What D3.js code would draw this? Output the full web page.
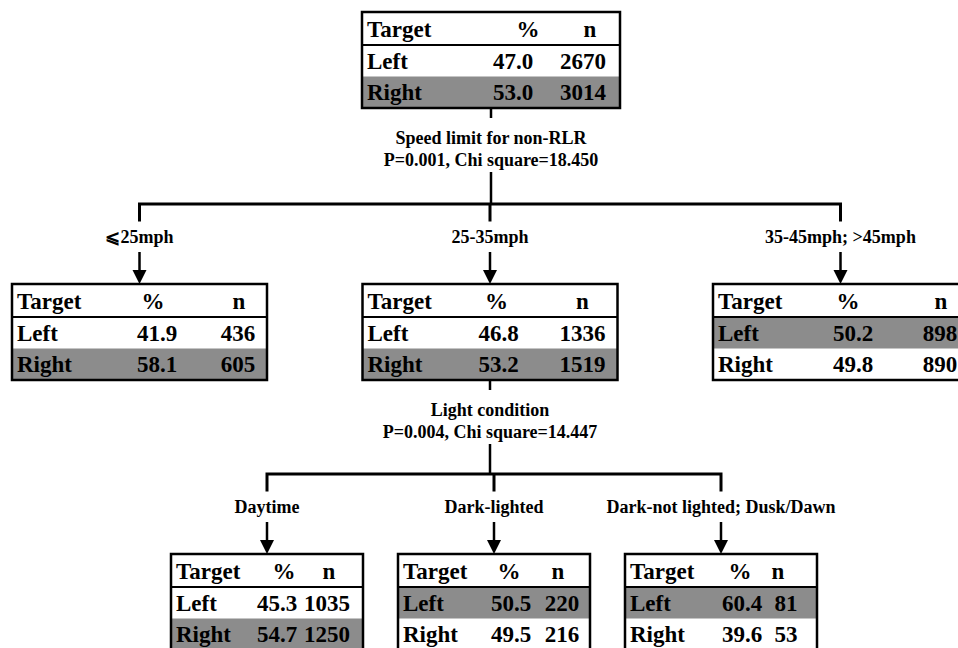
<!DOCTYPE html>
<html>
<head>
<meta charset="utf-8">
<script src="https://cdn.jsdelivr.net/npm/d3@7/dist/d3.min.js"></script>
<style>
  html, body { margin: 0; padding: 0; background: #fff; }
  svg { display: block; }
  text { font-family: "Liberation Serif", "Times New Roman", serif; font-weight: bold; fill: #000; }
</style>
</head>
<body>
<svg id="chart" width="958" height="648"></svg>
<script>
// Decision tree: node ids, parents and the branch condition leading to each node
const nodeIds     = ["root", "le25", "s25_35", "s35up", "day", "darkLit", "darkNot"];
const nodeParents = [null, "root", "root", "root", "s25_35", "s25_35", "s25_35"];
const branchLabels = [null, "⩽25mph", "25-35mph", "35-45mph; >45mph",
                      "Daytime", "Dark-lighted", "Dark-not lighted; Dusk/Dawn"];

// Table contents
const tableHeader = ["Target", "%", "n"];
const classNames  = ["Left", "Right"];
const nodePct = [[47.0, 53.0], [41.9, 58.1], [46.8, 53.2], [50.2, 49.8],
                 [45.3, 54.7], [50.5, 49.5], [60.4, 39.6]];
const nodeN   = [[2670, 3014], [436, 605], [1336, 1519], [898, 890],
                 [1035, 1250], [220, 216], [81, 53]];

// Split statistics for the internal nodes
const splitNodes = ["root", "s25_35"];
const splitVars  = ["Speed limit for non-RLR", "Light condition"];
const splitStats = ["P=0.001, Chi square=18.450", "P=0.004, Chi square=14.447"];

// ---- layout ----
const boxW    = [258, 255, 192];     // box width per depth
const headH = 33, rowH = 31.5;
const boxH = headH + 2 * rowH;
// column positions inside each table (header %, value %, header n, value n)
const colLayout = [
  [166, 151, 228, 221],
  [141, 145, 227, 226],
  [134, 136, 220, 220],
  [135, 140, 228, 227],
  [113, 106, 158, 156],
  [111, 113, 160, 164],
  [115, 117, 153, 161]
];
const grey = "#8c8c8c";

const svg = d3.select("#chart");

const table = nodeIds.map((id, i) => ({
  id, parent: nodeParents[i], label: branchLabels[i],
  pct: nodePct[i], n: nodeN[i], cols: colLayout[i]
}));
const root = d3.stratify().id(d => d.id).parentId(d => d.parent)(table);
const nodes = root.descendants();

// y: top edge of each depth's boxes
const yTop = d3.scaleOrdinal().domain([0, 1, 2]).range([12, 284, 554]);
// x: box centres, one point scale per depth
const xByDepth = {};
d3.group(nodes, d => d.depth).forEach((arr, depth) => {
  const ids = arr.map(d => d.id);
  const range = depth === 0 ? [491, 491] : depth === 1 ? [139.5, 840.5] : [267, 721];
  xByDepth[depth] = d3.scalePoint().domain(ids).range(range);
});
nodes.forEach(d => {
  d.cx = xByDepth[d.depth](d.id);
  d.w = boxW[d.depth];
  d.x0 = d.cx - d.w / 2;
  d.y0 = yTop(d.depth);
});

const labelSize = 18, tableSize = 23;

// ---- connectors ----
splitNodes.forEach((sid, k) => {
  const p = nodes.find(d => d.id === sid);
  const bottom = p.y0 + boxH;
  const kids = p.children;
  const barY = yTop(p.depth + 1) - 80;
  const g = svg.append("g");
  g.append("line").attr("x1", p.cx).attr("x2", p.cx).attr("y1", bottom).attr("y2", bottom + 10)
    .attr("stroke", "#000").attr("stroke-width", 2.5);
  g.append("text").attr("x", p.cx).attr("y", bottom + 30).attr("dy", "0.35em")
    .attr("text-anchor", "middle").attr("font-size", labelSize).text(splitVars[k]);
  g.append("text").attr("x", p.cx).attr("y", bottom + 52).attr("dy", "0.35em")
    .attr("text-anchor", "middle").attr("font-size", labelSize).text(splitStats[k]);
  g.append("line").attr("x1", p.cx).attr("x2", p.cx).attr("y1", bottom + 64).attr("y2", barY)
    .attr("stroke", "#000").attr("stroke-width", 2.5);
  const xs = kids.map(c => c.cx);
  g.append("path")
    .attr("d", kids.map(c => `M${c.cx},${barY + 16}V${barY}`).join("") +
      `M${d3.min(xs)},${barY}H${d3.max(xs)}`)
    .attr("fill", "none").attr("stroke", "#000").attr("stroke-width", 3)
    .attr("stroke-linejoin", "miter").attr("stroke-linecap", "square");
  kids.forEach(c => {
    g.append("text").attr("x", c.cx).attr("y", barY + 33).attr("dy", "0.35em")
      .attr("text-anchor", "middle").attr("font-size", labelSize).text(c.data.label);
    g.append("line").attr("x1", c.cx).attr("x2", c.cx).attr("y1", barY + 48).attr("y2", c.y0 - 12)
      .attr("stroke", "#000").attr("stroke-width", 2.5);
    g.append("path")
      .attr("d", `M${c.cx - 7},${c.y0 - 14}L${c.cx + 7},${c.y0 - 14}L${c.cx},${c.y0}Z`)
      .attr("fill", "#000");
  });
});

// ---- tables ----
const boxes = svg.selectAll("g.node").data(nodes).join("g")
  .attr("class", "node")
  .attr("transform", d => `translate(${d.x0},${d.y0})`);

boxes.append("rect").attr("width", d => d.w).attr("height", boxH).attr("fill", "#fff");

// majority class row shaded grey
boxes.each(function (d) {
  const g = d3.select(this);
  const major = d.data.pct[0] >= d.data.pct[1] ? 0 : 1;
  g.append("rect").attr("x", 0).attr("y", headH + major * rowH)
    .attr("width", d.w).attr("height", rowH).attr("fill", grey);

  const cols = d.data.cols;
  const rows = [tableHeader].concat(classNames.map((c, i) => [c, d.data.pct[i].toFixed(1), String(d.data.n[i])]));
  rows.forEach((r, ri) => {
    const yMid = ri === 0 ? headH / 2 : headH + (ri - 1) * rowH + rowH / 2;
    const xPct = ri === 0 ? cols[0] : cols[1];
    const xN = ri === 0 ? cols[2] : cols[3];
    g.append("text").attr("x", 5).attr("y", yMid + 8).attr("font-size", tableSize).text(r[0]);
    g.append("text").attr("x", xPct).attr("y", yMid + 8).attr("text-anchor", "middle")
      .attr("font-size", tableSize).text(r[1]);
    g.append("text").attr("x", xN).attr("y", yMid + 8).attr("text-anchor", "middle")
      .attr("font-size", tableSize).text(r[2]);
  });

  g.append("line").attr("x1", 0).attr("x2", d.w).attr("y1", headH).attr("y2", headH)
    .attr("stroke", "#000").attr("stroke-width", 2);
  g.append("rect").attr("width", d.w).attr("height", boxH)
    .attr("fill", "none").attr("stroke", "#000").attr("stroke-width", 2.5);
});
</script>
</body>
</html>
